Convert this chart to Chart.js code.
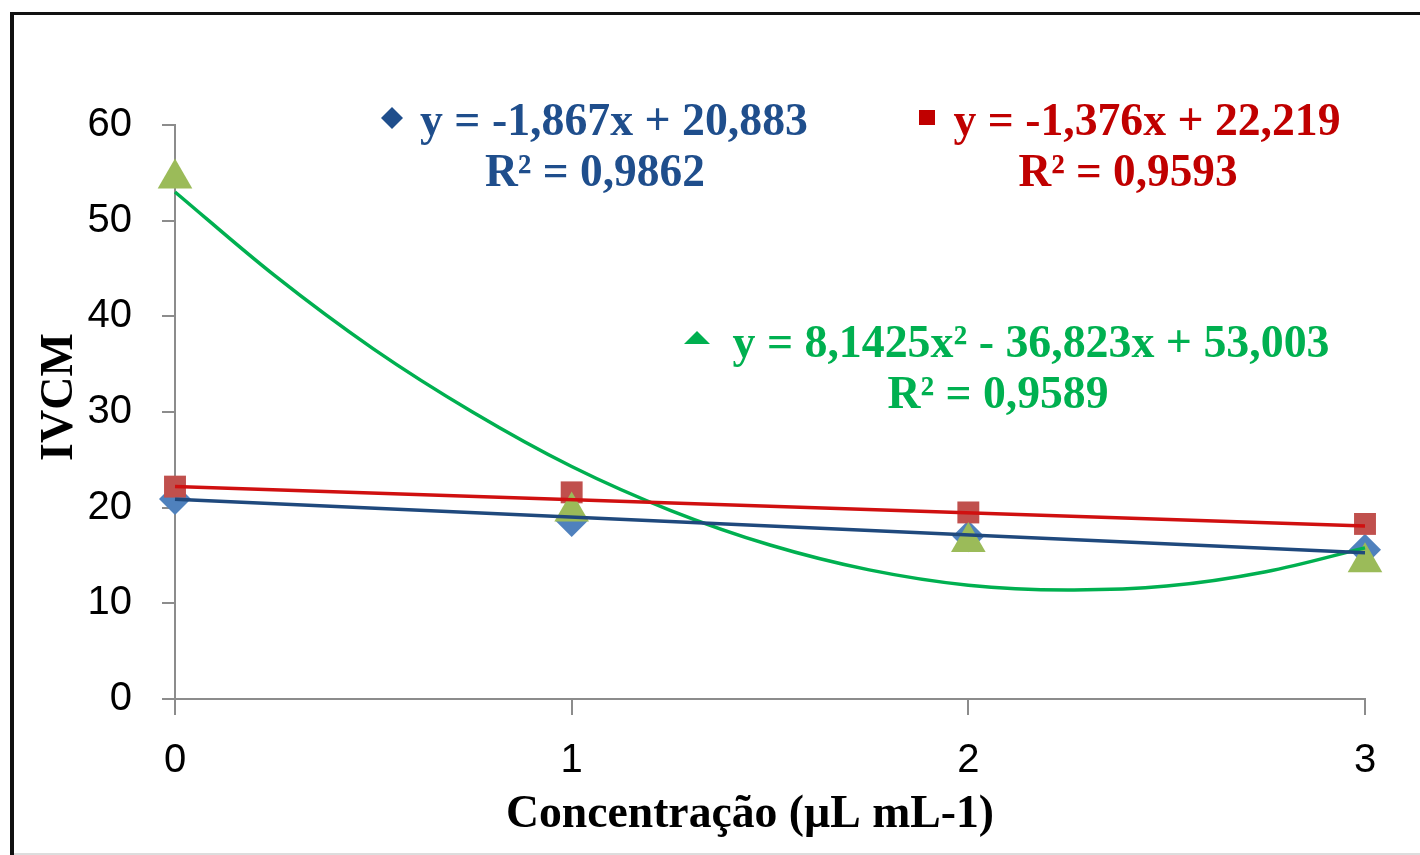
<!DOCTYPE html>
<html>
<head>
<meta charset="utf-8">
<script src="https://cdn.jsdelivr.net/npm/chart.js@4.4.1/dist/chart.umd.min.js"></script>
<style>
  body { margin: 0; background: #fff; }
  canvas { display: block; }
</style>
</head>
<body>
<canvas id="ivcmChart" width="1420" height="855"></canvas>
<script>
// values
const concentrations = [0, 1, 2, 3];
const blueVals = [20.9, 18.6, 17.0, 15.6];
const redVals = [22.2, 21.6, 19.5, 18.3];
const greenVals = [54.4, 19.6, 16.4, 14.3];

// trendlines as drawn in the picture
const blueTrendX = [0, 3];
const blueTrendY = [20.88, 15.28];
const redTrendX = [0, 3];
const redTrendY = [22.22, 18.09];
const greenTrendX = [0, 0.25, 0.5, 0.75, 1, 1.25, 1.5, 1.75, 2, 2.25, 2.5, 2.75, 3];
const greenTrendY = [53.0, 44.3, 36.6, 30.0, 24.3, 19.7, 16.1, 13.5, 11.9, 11.4, 11.8, 13.3, 15.8];

const yTicks = [0, 10, 20, 30, 40, 50, 60];
const xTicks = [0, 1, 2, 3];

const blueEq = ['y = -1,867x + 20,883', 'R² = 0,9862'];
const redEq = ['y = -1,376x + 22,219', 'R² = 0,9593'];
const greenEq = ['y = 8,1425x² - 36,823x + 53,003', 'R² = 0,9589'];

function toPoints(xs, ys) {
    return xs.map((x, i) => ({ x: x, y: ys[i] }));
}

const serif = '"Liberation Serif", "Times New Roman", serif';
const sans = '"Liberation Sans", Arial, sans-serif';

// frame, axis titles and trendline equations
const extras = {
    id: 'extras',
    beforeDraw(chart) {
        const ctx = chart.ctx;
        ctx.save();
        ctx.fillStyle = '#fff';
        ctx.fillRect(0, 0, 1420, 855);
        ctx.fillStyle = '#111';
        ctx.fillRect(10, 12, 4, 843);
        ctx.fillRect(10, 12, 1410, 3);
        ctx.fillStyle = '#ddd';
        ctx.fillRect(14, 853, 1406, 2);
        ctx.restore();
    },
    afterDraw(chart) {
        const ctx = chart.ctx;
        ctx.save();
        ctx.font = 'bold 46px ' + serif;
        ctx.textAlign = 'center';
        ctx.textBaseline = 'alphabetic';

        // y title
        ctx.save();
        ctx.translate(72, 397);
        ctx.rotate(-Math.PI / 2);
        ctx.fillStyle = '#000';
        ctx.fillText('IVCM', 0, 0, 128);
        ctx.restore();

        // x title
        ctx.fillStyle = '#000';
        ctx.fillText('Concentração (µL mL-1)', 750, 827, 488);

        // equations
        ctx.fillStyle = '#1f4e8c';
        ctx.fillText(blueEq[0], 614, 135, 388);
        ctx.fillText(blueEq[1], 595, 186, 220);
        ctx.fillStyle = '#c00000';
        ctx.fillText(redEq[0], 1147, 135, 387);
        ctx.fillText(redEq[1], 1128, 186, 219);
        ctx.fillStyle = '#00b050';
        ctx.fillText(greenEq[0], 1031, 357, 597);
        ctx.fillText(greenEq[1], 998, 408, 221);

        // little legend keys
        ctx.fillStyle = '#1f4e8c';
        ctx.beginPath();
        ctx.moveTo(392, 107); ctx.lineTo(403, 118); ctx.lineTo(392, 129); ctx.lineTo(381, 118);
        ctx.closePath(); ctx.fill();
        ctx.fillStyle = '#c00000';
        ctx.fillRect(919, 110, 16, 15);
        ctx.fillStyle = '#00b050';
        ctx.beginPath();
        ctx.moveTo(697, 331); ctx.lineTo(710, 344); ctx.lineTo(684, 344);
        ctx.closePath(); ctx.fill();
        ctx.restore();
    }
};

const ctx = document.getElementById('ivcmChart').getContext('2d');
new Chart(ctx, {
    type: 'scatter',
    data: {
        datasets: [
            {
                label: 'tendência azul',
                data: toPoints(blueTrendX, blueTrendY),
                showLine: true,
                borderColor: '#1f497d',
                borderWidth: 3.5,
                pointRadius: 0,
                clip: false
            },
            {
                label: 'tendência vermelha',
                data: toPoints(redTrendX, redTrendY),
                showLine: true,
                borderColor: '#d01010',
                borderWidth: 3.5,
                pointRadius: 0,
                clip: false
            },
            {
                label: 'tendência verde',
                data: toPoints(greenTrendX, greenTrendY),
                showLine: true,
                borderColor: '#00b050',
                borderWidth: 3.5,
                pointRadius: 0,
                tension: 0.35,
                clip: false
            },
            {
                label: 'verde',
                data: toPoints(concentrations, greenVals),
                pointStyle: 'triangle',
                pointRadius: 20,
                backgroundColor: '#9bbb59',
                borderColor: '#9bbb59',
                borderWidth: 0,
                clip: false
            },
            {
                label: 'vermelho',
                data: toPoints(concentrations, redVals),
                pointStyle: 'rect',
                pointRadius: 15.5,
                backgroundColor: '#c0504d',
                borderColor: '#c0504d',
                borderWidth: 0,
                clip: false
            },
            {
                label: 'azul',
                data: toPoints(concentrations, blueVals),
                pointStyle: 'rectRot',
                pointRadius: 16,
                backgroundColor: '#4f81bd',
                borderColor: '#4f81bd',
                borderWidth: 0,
                clip: false
            }
        ]
    },
    options: {
        responsive: false,
        animation: false,
        devicePixelRatio: 1,
        layout: { padding: { left: 0, right: 55, top: 125, bottom: 0 } },
        plugins: {
            legend: { display: false },
            tooltip: { enabled: false }
        },
        scales: {
            x: {
                type: 'linear',
                min: 0,
                max: 3,
                afterBuildTicks: (scale) => { scale.ticks = xTicks.map(v => ({ value: v })); },
                afterFit: (scale) => { scale.height = 156; },
                grid: { drawOnChartArea: false, tickLength: 16, color: '#8c8c8c', lineWidth: 2 },
                border: { color: '#8c8c8c', width: 2 },
                ticks: { padding: 22, color: '#000', font: { family: sans, size: 40 } }
            },
            y: {
                min: 0,
                max: 60,
                afterBuildTicks: (scale) => { scale.ticks = yTicks.map(v => ({ value: v })); },
                afterFit: (scale) => { scale.width = 175; },
                grid: { drawOnChartArea: false, tickLength: 13, color: '#8c8c8c', lineWidth: 2 },
                border: { color: '#8c8c8c', width: 2 },
                ticks: { padding: 30, color: '#000', font: { family: sans, size: 40 } }
            }
        }
    },
    plugins: [extras]
});
</script>
</body>
</html>
